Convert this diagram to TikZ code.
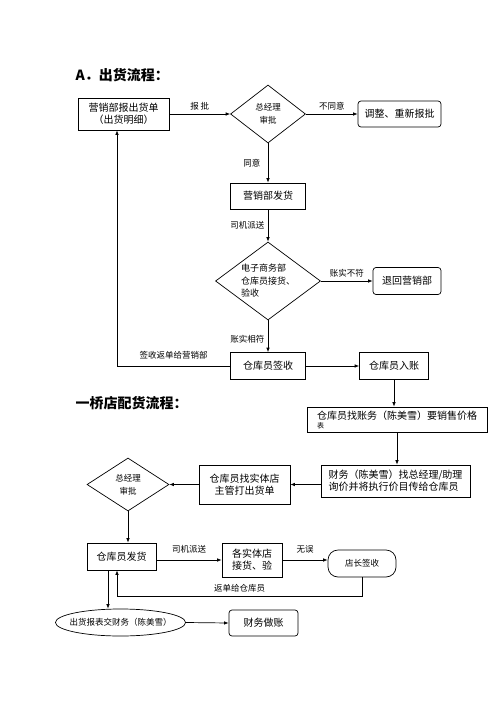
\documentclass[tikz,border=0pt]{standalone}
\usepackage{fontspec}
\setmainfont{Noto Sans CJK SC}
\usetikzlibrary{shapes.geometric,arrows.meta}

\begin{document}
\begin{tikzpicture}[x=1pt,y=-1pt,
    line width=0.7pt, >={Latex[length=4.5pt,width=3.5pt]},
    box/.style={draw, rectangle, align=center, inner sep=1pt, font=\fontsize{10}{12}\selectfont},
    rbox/.style={box, rounded corners=3pt},
    decision/.style={draw, diamond, align=center, inner sep=0pt, font=\fontsize{8.5}{13}\selectfont},
    lbl/.style={font=\fontsize{8.5}{10}\selectfont},
    heading/.style={anchor=west, font=\fontsize{14}{16}\selectfont\bfseries}]
    \useasboundingbox (0,0) rectangle (500,708);

    % A. 出货流程
    \node[heading] (titleA) at (72,75) {A．出货流程：};
    \node[box, minimum width=91pt, minimum height=32pt] (baodan) at (123.5,114) {营销部报出货单\\（出货明细）};
    \node[decision, aspect=1.3, minimum width=75pt, minimum height=58pt] (shenpiA) at (268,114) {总经理\\审批};
    \node[rbox, minimum width=83pt, minimum height=26pt] (tiaozheng) at (399.5,114) {调整、重新报批};
    \node[box, minimum width=75pt, minimum height=26pt] (fahuoA) at (268,196) {营销部发货};
    \node[decision, aspect=1.35, align=left, minimum width=105pt, minimum height=78pt,
          font=\fontsize{9}{12.5}\selectfont] (jieshou) at (268,281) {电子商务部\\仓库员接货、\\验收};
    \node[rbox, minimum width=68pt, minimum height=27pt] (tuihui) at (407,281) {退回营销部};
    \node[box, minimum width=75pt, minimum height=27pt] (qianshou) at (268,366) {仓库员签收};
    \node[box, minimum width=69pt, minimum height=27pt] (ruzhang) at (394,366) {仓库员入账};
    \coordinate (upA) at (117,0);

    \draw[->] (baodan.east) -- (shenpiA.west) node[lbl, midway, above] {报\ 批};
    \draw[->] (shenpiA.east) -- (tiaozheng.west) node[lbl, midway, above] {不同意};
    \draw[->] (shenpiA.south) -- (fahuoA.north) node[lbl, midway, left=4pt] {同意};
    \draw[->] (fahuoA.south) -- (jieshou.north) node[lbl, midway, left] {司机派送};
    \draw[->] (jieshou.east) -- (tuihui.west) node[lbl, midway, above] {账实不符};
    \draw[->] (jieshou.south) -- (qianshou.north) node[lbl, pos=0.6, left] {账实相符};
    \draw[->] (qianshou.west) -| (baodan.south -| upA) node[lbl, pos=0.25, above=3pt] {签收返单给营销部};
    \draw[->] (qianshou.east) -- (ruzhang.west);

    % 一桥店配货流程
    \node[heading] (titleB) at (72,403) {一桥店配货流程：};
    \node[box, align=left, minimum width=180pt, minimum height=25pt, inner sep=2pt] (jiage) at (397,419.5) {仓库员找账务（陈美雪）要销售价格\\[-3pt]{\fontsize{7}{8}\selectfont 表}};
    \node[box, align=left, minimum width=149pt, minimum height=32pt] (xunjia) at (395.5,481) {财务（陈美雪）找总经理/助理\\询价并将执行价目传给仓库员};
    \node[box, minimum width=91pt, minimum height=39pt] (dayin) at (244.5,484.5) {仓库员找实体店\\主管打出货单};
    \node[decision, aspect=1.55, minimum width=82pt, minimum height=53pt] (shenpiB) at (128,484.5) {总经理\\审批};
    \node[box, minimum width=69pt, minimum height=27pt] (fahuoB) at (121.5,556.5) {仓库员发货};
    \node[box, minimum width=60pt, minimum height=34pt] (jiehuo) at (252,560) {各实体店\\接货、验};
    \node[rbox, rounded corners=10pt, minimum width=68pt, minimum height=27pt, lbl] (dianzhang) at (362,563.5) {店长签收};
    \node[draw, ellipse, minimum width=129pt, minimum height=27pt, inner xsep=-5pt, inner ysep=0pt, lbl] (baobiao) at (120.5,622.5) {出货报表交财务（陈美雪）};
    \node[rbox, minimum width=69pt, minimum height=26pt] (zuozhang) at (263.5,623) {财务做账};
    \coordinate (back) at (117,596);
    \coordinate (down) at (108,0);

    \draw[->] (ruzhang.south) -- (ruzhang.south |- jiage.north);
    \draw[->] (jiage.south) -- (jiage.south |- xunjia.north);
    \draw[->] (dayin.east -| xunjia.west) -- (dayin.east);
    \draw[->] (dayin.west) -- (shenpiB.east);
    \draw[->] (shenpiB.south) -- (shenpiB.south |- fahuoB.north);
    \draw[->] (jiehuo.west -| fahuoB.east) -- (jiehuo.west) node[lbl, midway, above=3pt] {司机派送};
    \draw[->] (jiehuo.east) -- (jiehuo.east -| dianzhang.west) node[lbl, midway, above=3pt] {无误};
    \draw[->] (dianzhang.south) |- (back) node[lbl, pos=0.75, above] {返单给仓库员} -- (fahuoB.south -| back);
    \draw[->] (fahuoB.south -| down) -- (baobiao.north -| down);
    \draw[->] (baobiao.east) -- (zuozhang.west);
\end{tikzpicture}
\end{document}
